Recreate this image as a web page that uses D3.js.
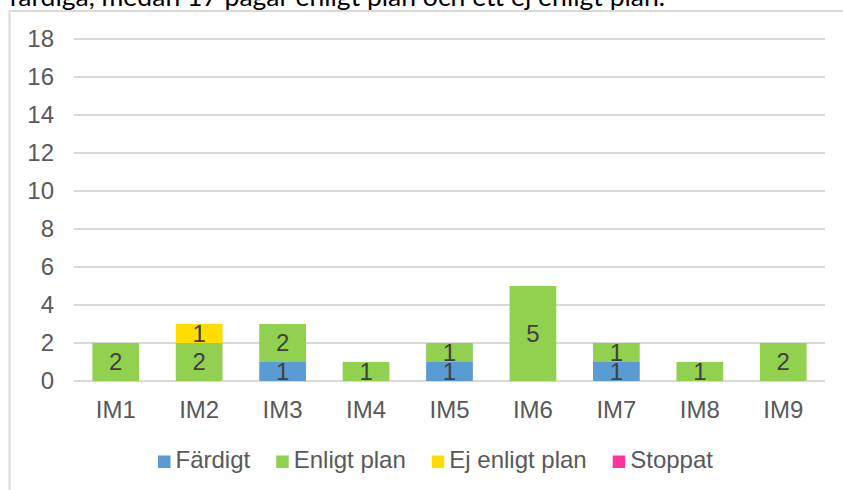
<!DOCTYPE html>
<html>
<head>
<meta charset="utf-8">
<script src="https://cdn.jsdelivr.net/npm/d3@7"></script>
<style>
  html, body { margin: 0; padding: 0; background: #fff; overflow: hidden; }
  svg { display: block; }
</style>
</head>
<body>
<script>
const caption = "färdiga, medan 17 pågår enligt plan och ett ej enligt plan.";
const categories = ["IM1", "IM2", "IM3", "IM4", "IM5", "IM6", "IM7", "IM8", "IM9"];
const seriesNames = ["Färdigt", "Enligt plan", "Ej enligt plan", "Stoppat"];
const fardigt    = [0, 0, 1, 0, 1, 0, 1, 0, 0];
const enligtPlan = [2, 2, 2, 1, 1, 5, 1, 1, 2];
const ejEnligt   = [0, 1, 0, 0, 0, 0, 0, 0, 0];
const stoppat    = [0, 0, 0, 0, 0, 0, 0, 0, 0];
const yTicks = [0, 2, 4, 6, 8, 10, 12, 14, 16, 18];
const colors = ["#5B9BD5", "#92D050", "#FFDD00", "#FF3399"];

const W = 843, H = 490;
const svg = d3.select("body").append("svg").attr("width", W).attr("height", H);

// caption (partially cut at the top)
svg.append("text")
  .attr("x", 9).attr("y", 6)
  .attr("font-family", "Lato, 'Open Sans', sans-serif")
  .attr("font-size", 25)
  .attr("fill", "#000")
  .attr("textLength", 656)
  .attr("lengthAdjust", "spacingAndGlyphs")
  .text(caption);

// chart frame
svg.append("rect")
  .attr("x", 9.5).attr("y", 11)
  .attr("width", 900).attr("height", 600)
  .attr("fill", "#fff")
  .attr("stroke", "#d9d9d9").attr("stroke-width", 2);

const x = d3.scaleBand().domain(categories).range([74, 825]).paddingInner(0.44).paddingOuter(0.22);
const y = d3.scaleLinear().domain([0, 18]).range([381, 39]);

// gridlines
svg.append("g").selectAll("line").data(yTicks).join("line")
  .attr("x1", 74).attr("x2", 825)
  .attr("y1", d => y(d)).attr("y2", d => y(d))
  .attr("stroke", "#d9d9d9").attr("stroke-width", 2);

// y axis labels
const yAxis = d3.axisLeft(y).tickValues(yTicks).tickSize(0).tickPadding(0);
const gy = svg.append("g").attr("transform", "translate(54,0)").call(yAxis);
gy.select(".domain").remove();
gy.selectAll("text")
  .attr("font-family", "'Liberation Sans', Arial, sans-serif")
  .attr("font-size", 24).attr("fill", "#595959");

// x axis labels
const xAxis = d3.axisBottom(x).tickSize(0).tickPadding(0);
const gx = svg.append("g").attr("transform", "translate(0,381)").call(xAxis);
gx.select(".domain").remove();
gx.selectAll("text")
  .attr("dy", null).attr("y", 37)
  .attr("font-family", "'Liberation Sans', Arial, sans-serif")
  .attr("font-size", 24).attr("fill", "#595959");

// stacked data
const rows = categories.map((c, i) => ({
  cat: c,
  "Färdigt": fardigt[i],
  "Enligt plan": enligtPlan[i],
  "Ej enligt plan": ejEnligt[i],
  "Stoppat": stoppat[i]
}));
const stack = d3.stack().keys(seriesNames)(rows);

const gBars = svg.append("g");
stack.forEach((layer, si) => {
  gBars.append("g").attr("fill", colors[si])
    .selectAll("rect").data(layer.filter(d => d[1] - d[0] > 0)).join("rect")
    .attr("x", d => x(d.data.cat))
    .attr("width", x.bandwidth())
    .attr("y", d => y(d[1]))
    .attr("height", d => y(d[0]) - y(d[1]));
});
// data labels
stack.forEach((layer) => {
  gBars.append("g").selectAll("text").data(layer.filter(d => d[1] - d[0] > 0)).join("text")
    .attr("x", d => x(d.data.cat) + x.bandwidth() / 2)
    .attr("y", d => (y(d[0]) + y(d[1])) / 2)
    .attr("dy", "0.35em")
    .attr("text-anchor", "middle")
    .attr("font-family", "'Liberation Sans', Arial, sans-serif")
    .attr("font-size", 24).attr("fill", "#404040")
    .text(d => d[1] - d[0]);
});

// legend
const legend = svg.append("g");
let lx = 158;
const ly = 468;
seriesNames.forEach((name, i) => {
  legend.append("rect")
    .attr("x", lx).attr("y", ly - 12.5)
    .attr("width", 12.5).attr("height", 12.5)
    .attr("fill", colors[i]);
  const t = legend.append("text")
    .attr("x", lx + 17.5).attr("y", ly)
    .attr("font-family", "'Liberation Sans', Arial, sans-serif")
    .attr("font-size", 24).attr("fill", "#595959")
    .text(name);
  lx = lx + 17.5 + t.node().getComputedTextLength() + 26;
});
</script>
</body>
</html>
